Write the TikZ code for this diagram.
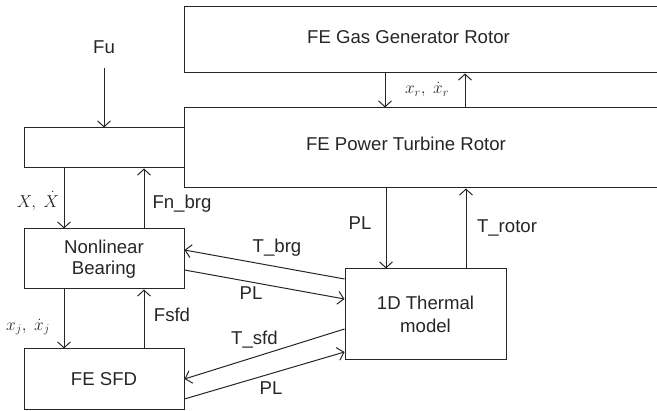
\documentclass[tikz,border=0pt]{standalone}
\usepackage{fontspec}
\setmainfont{Liberation Sans}
\usetikzlibrary{arrows.meta}
\begin{document}
\begin{tikzpicture}[x=1pt,y=-1pt,line width=1pt,color=black!85,
  font=\fontsize{18.6}{21}\selectfont,
  box/.style={draw,inner sep=0pt,align=center},
  lbl/.style={inner sep=0pt,text height=0.716em,text depth=0pt},
  mlbl/.style={inner sep=0pt,font=\fontsize{17}{20}\selectfont},
  arr/.style={-{Straight Barb[length=6pt,width=13pt]}}]
\useasboundingbox (0,0) rectangle (657,411);
% boxes
\node[box,minimum width=536pt,minimum height=66pt] (gas) at (452,40) {};
\node[box,minimum width=536pt,minimum height=80pt] (pt) at (452,148) {};
\node[box,minimum width=160pt,minimum height=40pt] (shaft) at (104,148) {};
\node[box,minimum width=160pt,minimum height=60pt] (brg) at (104,259) {Nonlinear\\Bearing};
\node[box,minimum width=160pt,minimum height=61pt] (sfd) at (104,379.5) {FE SFD};
\node[box,minimum width=161pt,minimum height=91pt,font=\fontsize{18.6}{23}\selectfont] (th) at (425.5,314.5) {1D Thermal\\model};
\node[lbl] (gastxt) at (408.5,40) {FE Gas Generator Rotor};
\node[lbl] (pttxt) at (406,147) {FE Power Turbine Rotor};
% labels
\node[lbl] (fu) at (104,50) {Fu};
\coordinate (fuend) at (104,68);
\node[mlbl] (xr) at (427,90) {$x_r,\ \dot{x}_r$};
\node[mlbl] (xX) at (38,201) {$X,\ \dot{X}$};
\node[lbl] (fnbrg) at (182,205) {Fn\_brg};
\node[mlbl] (xj) at (28,327) {$x_j,\ \dot{x}_j$};
\node[lbl] (fsfd) at (172,318) {Fsfd};
\node[lbl] (tbrg) at (277,249) {T\_brg};
\node[lbl] (pl1) at (251,296) {PL};
\node[lbl] (tsfd) at (254.5,341) {T\_sfd};
\node[lbl] (pl2) at (271,391) {PL};
\node[lbl] (pl3) at (360,225.5) {PL};
\node[lbl] (trotor) at (507,229) {T\_rotor};
% connectors
\draw[arr] (fuend) -- (shaft.north);
\draw[arr] (gas.south -| 385,0) -- (pt.north -| 385,0);
\draw[arr] (pt.north -| 465,0) -- (gas.south -| 465,0);
\draw[arr] (shaft.south -| 64,0) -- (brg.north -| 64,0);
\draw[arr] (brg.north -| 144,0) -- (shaft.south -| 144,0);
\draw[arr] (brg.south -| 64,0) -- (sfd.north -| 64,0);
\draw[arr] (sfd.north -| 144,0) -- (brg.south -| 144,0);
\draw[arr] (pt.south -| 386,0) -- (th.north -| 386,0);
\draw[arr] (th.north -| 466,0) -- (pt.south -| 466,0);
\draw[arr] (th.west |- 0,279) -- (brg.east |- 0,250);
\draw[arr] (brg.east |- 0,270) -- (th.west |- 0,299);
\draw[arr] (th.west |- 0,329) -- (sfd.east |- 0,379);
\draw[arr] (sfd.east |- 0,399) -- (th.west |- 0,352);
\end{tikzpicture}
\end{document}
